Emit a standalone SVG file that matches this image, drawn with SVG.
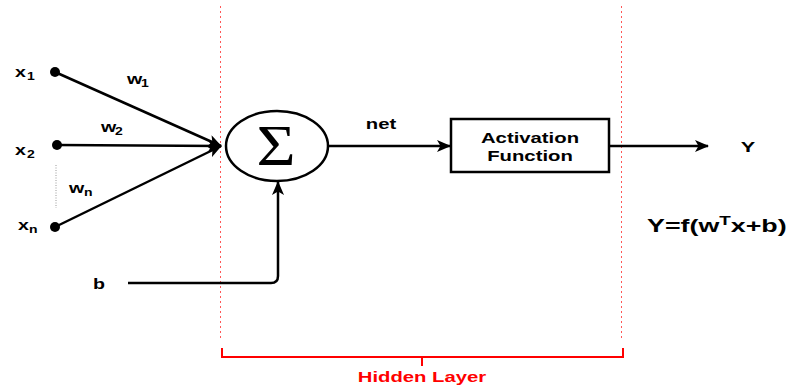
<svg xmlns="http://www.w3.org/2000/svg" width="793" height="388" viewBox="0 0 793 388">
  <style>
    .lbl { font-family: "Liberation Sans", Arial, sans-serif; font-weight: bold; fill: #000; }
    .sub { font-family: "Liberation Sans", Arial, sans-serif; font-weight: bold; fill: #000; font-size: 10px; }
    .edge { fill: none; stroke: #000; stroke-width: 2.5; }
    .guide { fill: none; stroke: #ff5555; stroke-width: 1; stroke-dasharray: 2 3; }
    .brace { fill: none; stroke: #ff0000; stroke-width: 2; }
  </style>
  <defs>
    <marker id="arrow" viewBox="0 0 14 12" refX="13" refY="6" markerWidth="14" markerHeight="12" markerUnits="userSpaceOnUse" orient="auto">
      <path d="M0,0 L14,6 L0,12 L3.5,6 Z" fill="#000"/>
    </marker>
  </defs>

  <rect width="793" height="388" fill="#fff"/>

  <!-- hidden layer boundaries -->
  <g id="hidden-layer">
    <line class="guide" x1="220.5" y1="6" x2="220.5" y2="340"/>
    <line class="guide" x1="621.5" y1="6" x2="621.5" y2="340"/>
    <path class="brace" d="M222,348 V357 H623 V348 M422,357 V366"/>
    <text class="lbl" transform="translate(422,382) scale(1.45,1)" text-anchor="middle" font-size="14" style="fill:#ff0000">Hidden Layer</text>
  </g>

  <!-- connectors -->
  <g id="connectors">
    <line class="edge" x1="55" y1="72" x2="221" y2="146" marker-end="url(#arrow)"/>
    <line class="edge" x1="57" y1="145" x2="221" y2="146" marker-end="url(#arrow)"/>
    <line class="edge" x1="55" y1="227" x2="221" y2="146" marker-end="url(#arrow)"/>
    <path class="edge" d="M128,283 H271 Q278,283 278,276 V182" marker-end="url(#arrow)"/>
    <line class="edge" x1="328" y1="146" x2="450" y2="146" marker-end="url(#arrow)"/>
    <line class="edge" x1="609" y1="146" x2="708" y2="146" marker-end="url(#arrow)"/>
    <line x1="56" y1="165" x2="56" y2="208" stroke="#999" stroke-width="1" stroke-dasharray="1 1.5"/>
  </g>

  <!-- inputs -->
  <g id="input-x1">
    <circle cx="55" cy="72" r="5" fill="#000"/>
    <text class="lbl" transform="translate(15,77) scale(1.4,1)" font-size="14">x</text>
    <text class="sub" transform="translate(27,80) scale(1.4,1)">1</text>
  </g>
  <g id="input-x2">
    <circle cx="57" cy="145" r="5" fill="#000"/>
    <text class="lbl" transform="translate(15,155) scale(1.4,1)" font-size="14">x</text>
    <text class="sub" transform="translate(27,158) scale(1.4,1)">2</text>
  </g>
  <g id="input-xn">
    <circle cx="55" cy="227" r="5" fill="#000"/>
    <text class="lbl" transform="translate(18,230) scale(1.4,1)" font-size="14">x</text>
    <text class="sub" transform="translate(29,233) scale(1.4,1)">n</text>
  </g>
  <g id="bias">
    <text class="lbl" transform="translate(99,289) scale(1.4,1)" text-anchor="middle" font-size="14">b</text>
  </g>

  <!-- weights -->
  <g id="weights">
    <text class="lbl" transform="translate(127,84) scale(1.4,1)" font-size="14">w</text>
    <text class="sub" transform="translate(141,87) scale(1.4,1)">1</text>
    <text class="lbl" transform="translate(101,132) scale(1.4,1)" font-size="14">w</text>
    <text class="sub" transform="translate(115,135) scale(1.4,1)">2</text>
    <text class="lbl" transform="translate(69,193) scale(1.4,1)" font-size="14">w</text>
    <text class="sub" transform="translate(84,196) scale(1.4,1)">n</text>
  </g>

  <!-- summation node -->
  <g id="sum">
    <ellipse cx="277" cy="146" rx="51" ry="35" fill="#fff" stroke="#000" stroke-width="2.5"/>
    <text transform="translate(276,165) scale(1.2,1)" text-anchor="middle" font-family="Liberation Serif, Times New Roman, serif" font-size="56" fill="#000">Σ</text>
  </g>

  <g id="net-label">
    <text class="lbl" transform="translate(381,129) scale(1.45,1)" text-anchor="middle" font-size="14">net</text>
  </g>

  <!-- activation node -->
  <g id="activation">
    <rect x="451" y="119" width="158" height="53" fill="#fff" stroke="#000" stroke-width="2.5"/>
    <text class="lbl" transform="translate(530,143) scale(1.45,1)" text-anchor="middle" font-size="14">Activation</text>
    <text class="lbl" transform="translate(530,161) scale(1.45,1)" text-anchor="middle" font-size="14">Function</text>
  </g>

  <!-- output -->
  <g id="output">
    <text class="lbl" transform="translate(748,152) scale(1.45,1)" text-anchor="middle" font-size="15">Y</text>
  </g>
  <g id="formula">
    <text class="lbl" transform="translate(647,232) scale(1.45,1)" font-size="18.5">Y=f(w<tspan font-size="13" dy="-7">T</tspan><tspan dy="7">x+b)</tspan></text>
  </g>
</svg>
